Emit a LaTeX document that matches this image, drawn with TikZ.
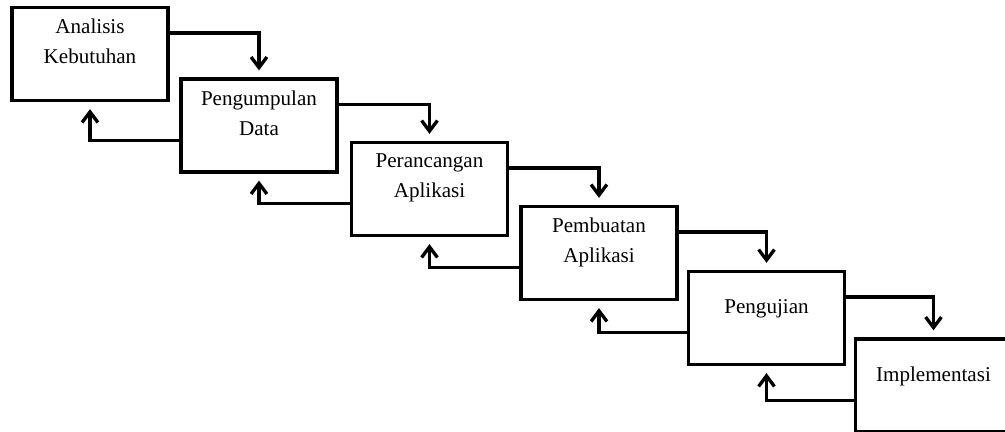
\documentclass[tikz,border=0pt]{standalone}
\usepackage{fontspec}
\setmainfont{Liberation Serif}
\usepackage{tikz}
\usetikzlibrary{positioning,calc,arrows.meta}

\tikzset{
  stage/.style={draw, line width=1.9pt, minimum width=3.12cm, minimum height=1.86cm, inner sep=0pt},
  stagetext/.style={inner sep=0pt, align=center, font=\fontsize{12}{17}\selectfont},
  flow/.style={line width=1.9pt, -{Straight Barb[length=6pt,width=9pt]}, shorten >=0.14cm},
}

\begin{document}
\begin{tikzpicture}[x=0.02cm, y=-0.02cm]
    \useasboundingbox (0,0) rectangle (1005,432);

    % stages
    \node[stage] (s1) at (90,54) {};
    \node[stage] (s2) at (259,125.5) {};
    \node[stage] (s3) at (429.5,189) {};
    \node[stage] (s4) at (599,253) {};
    \node[stage] (s5) at (766.5,318) {};
    \node[stage] (s6) at (933.5,385.5) {};

    \node[stagetext, below=0.26cm of s1.north] (t1) {Analisis\\Kebutuhan};
    \node[stagetext, below=0.26cm of s2.north] (t2) {Pengumpulan\\Data};
    \node[stagetext, below=0.26cm of s3.north] (t3) {Perancangan\\Aplikasi};
    \node[stagetext, below=0.26cm of s4.north] (t4) {Pembuatan\\Aplikasi};
    \node[stagetext, below=0.58cm of s5.north] (t5) {Pengujian};
    \node[stagetext, below=0.58cm of s6.north] (t6) {Implementasi};

    % forward
    \draw[flow] ([yshift=-0.54cm]s1.north east) -| (s2.north);
    \draw[flow] ([yshift=-0.54cm]s2.north east) -| (s3.north);
    \draw[flow] ([yshift=-0.54cm]s3.north east) -| (s4.north);
    \draw[flow] ([yshift=-0.54cm]s4.north east) -| (s5.north);
    \draw[flow] ([yshift=-0.54cm]s5.north east) -| (s6.north);

    % back
    \draw[flow] ([yshift=-1.26cm]s2.north west) -| (s1.south);
    \draw[flow] ([yshift=-1.26cm]s3.north west) -| (s2.south);
    \draw[flow] ([yshift=-1.26cm]s4.north west) -| (s3.south);
    \draw[flow] ([yshift=-1.26cm]s5.north west) -| (s4.south);
    \draw[flow] ([yshift=-1.26cm]s6.north west) -| (s5.south);
\end{tikzpicture}
\end{document}
